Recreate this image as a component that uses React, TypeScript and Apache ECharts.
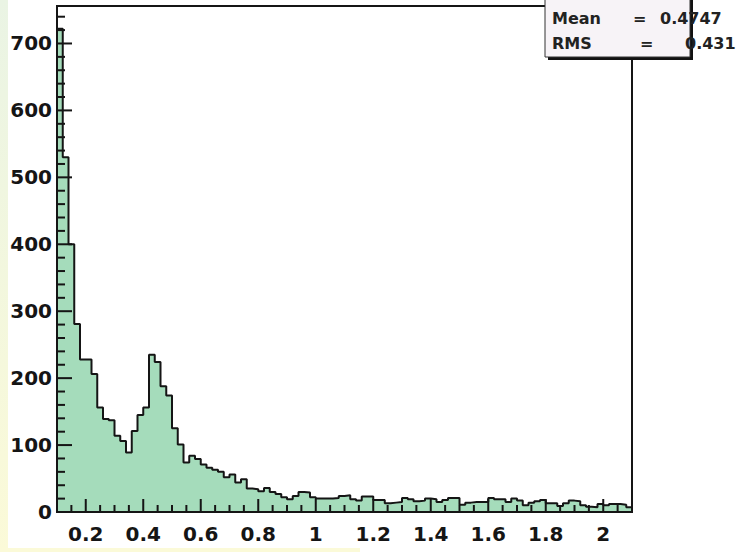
import React, { useEffect, useRef } from "react";
import * as echarts from "echarts";

// Histogram binning: 100 bins of width 0.02 from 0.1 to 2.1
const binLow = 0.1;
const binWidth = 0.02;

// Entries per bin
const counts = [
  722, 530, 400, 281, 228, 228, 206, 156, 139, 137,
  114, 106, 89, 121, 145, 156, 235, 224, 188, 174,
  125, 101, 74, 84, 79, 71, 66, 63, 60, 52,
  56, 44, 49, 35, 34, 31, 36, 30, 27, 22,
  19, 24, 30, 29, 22, 20, 20, 20, 21, 24,
  25, 19, 17, 23, 23, 18, 18, 13, 14, 15,
  21, 19, 16, 17, 20, 19, 15, 18, 21, 21,
  11, 14, 15, 15, 15, 21, 19, 19, 15, 20,
  17, 10, 14, 16, 18, 13, 13, 9, 13, 17,
  16, 10, 8, 7, 12, 10, 12, 12, 11, 7,
];

const xMin = 0.1;
const xMax = 2.1;
const yMin = 0;
const yMax = 756;

const xMajorTicks = [0.2, 0.4, 0.6, 0.8, 1, 1.2, 1.4, 1.6, 1.8, 2];
const yMajorTicks = [0, 100, 200, 300, 400, 500, 600, 700];

// minor ticks every 0.05 on x and every 20 on y
const xMinorTicks: number[] = [];
for (let i = 3; i <= 41; i++) {
  if (i % 4 !== 0) xMinorTicks.push(Math.round(i * 5) / 100);
}
const yMinorTicks: number[] = [];
for (let v = 20; v <= 740; v += 20) {
  if (v % 100 !== 0) yMinorTicks.push(v);
}

const statNames = ["Mean", "RMS"];
const statValues = ["0.4747", "0.431"];

const FONT = "DejaVu Sans";
const INK = "#151515";
const FILL = "#a5dcbb";

export default function App() {
  const ref = useRef<HTMLDivElement>(null);

  useEffect(() => {
    if (!ref.current) return;
    const chart = echarts.init(ref.current, undefined, { renderer: "svg" });

    // step outline: a point at each bin's low edge, plus the upper edge of the last bin
    const stepData: [number, number][] = counts.map((c, i) => [
      +(binLow + i * binWidth).toFixed(2),
      c,
    ]);
    stepData.push([xMax, counts[counts.length - 1]]);

    const grid = { left: 57, right: 108, top: 6, bottom: 40 };
    const gx0 = grid.left;
    const gx1 = 740 - grid.right;
    const gy0 = grid.top;
    const gy1 = 552 - grid.bottom;

    // linear value-to-pixel mapping of the grid, same extents as the axes
    const xPx = (v: number) => gx0 + ((v - xMin) / (xMax - xMin)) * (gx1 - gx0);
    const yPx = (v: number) => gy1 - ((v - yMin) / (yMax - yMin)) * (gy1 - gy0);

    const tickBar = (x: number, y: number, width: number, height: number) => ({
      type: "rect",
      z: 45,
      shape: { x, y, width, height },
      style: { fill: INK },
    });
    const xTickBars = (vals: number[], len: number) =>
      vals.map((v) => tickBar(xPx(v) - 1, gy1 - len, 2, len));
    const yTickBars = (vals: number[], len: number) =>
      vals.map((v) => tickBar(gx0, yPx(v) - 1, len, 2));

    const labelStyle = {
      fontFamily: FONT,
      fontWeight: "bold" as const,
      fontSize: 20,
      color: INK,
    };

    const statText = (text: string, x: number, y: number) => ({
      type: "text",
      x,
      y,
      z: 72,
      style: {
        text,
        fill: "#222",
        font: `bold 16px "${FONT}"`,
        verticalAlign: "middle",
        align: "left",
      },
    });

    const rowY = [18, 43];
    const eqX = [633, 640];
    const valX = [660, 685];

    chart.setOption({
      animation: false,
      backgroundColor: "#ffffff",
      grid,
      xAxis: {
        type: "value",
        min: xMin,
        max: xMax,
        position: "bottom",
        axisLine: { show: false },
        axisTick: { show: false },
        minorTick: { show: false },
        splitLine: { show: false },
        axisLabel: {
          show: true,
          ...labelStyle,
          margin: 12,
          customValues: xMajorTicks,
        },
      },
      yAxis: {
        type: "value",
        min: yMin,
        max: yMax,
        position: "left",
        axisLine: { show: false },
        axisTick: { show: false },
        minorTick: { show: false },
        splitLine: { show: false },
        axisLabel: {
          show: true,
          ...labelStyle,
          margin: 5,
          customValues: yMajorTicks,
        },
      },
      series: [
        {
          type: "line",
          xAxisIndex: 0,
          yAxisIndex: 0,
          step: "end",
          symbol: "none",
          z: 2,
          data: stepData,
          lineStyle: { color: INK, width: 2 },
          areaStyle: { color: FILL, opacity: 1 },
        },
      ],
      graphic: [
        // page edge tints
        {
          type: "rect",
          z: 0,
          shape: { x: 0, y: 0, width: 8, height: 552 },
          style: {
            fill: new echarts.graphic.LinearGradient(0, 0, 0, 1, [
              { offset: 0, color: "#eaf4e4" },
              { offset: 1, color: "#fbfad8" },
            ]),
          },
        },
        {
          type: "rect",
          z: 0,
          shape: { x: 0, y: 548, width: 360, height: 4 },
          style: { fill: "#fbfad8" },
        },
        // inward tick marks
        ...xTickBars(xMajorTicks, 13),
        ...xTickBars(xMinorTicks, 7),
        ...yTickBars(yMajorTicks, 15),
        ...yTickBars(yMinorTicks, 8),
        // plot frame
        {
          type: "rect",
          z: 50,
          shape: { x: gx0, y: gy0, width: gx1 - gx0, height: gy1 - gy0 },
          style: { fill: "none", stroke: INK, lineWidth: 2 },
        },
        // statistics box with drop shadow
        {
          type: "rect",
          z: 70,
          shape: { x: 548, y: -5, width: 145, height: 65 },
          style: { fill: "#111" },
        },
        {
          type: "rect",
          z: 71,
          shape: { x: 545, y: -8, width: 145, height: 65 },
          style: { fill: "#f7f3f7", stroke: "#333", lineWidth: 1 },
        },
        ...statNames.flatMap((name, i) => [
          statText(name, 552, rowY[i]),
          statText("=", eqX[i], rowY[i]),
          statText(statValues[i], valX[i], rowY[i]),
        ]),
      ],
    });

    return () => chart.dispose();
  }, []);

  return (
    <div
      ref={ref}
      style={{ position: "absolute", left: 0, top: 0, width: 740, height: 552 }}
    />
  );
}
